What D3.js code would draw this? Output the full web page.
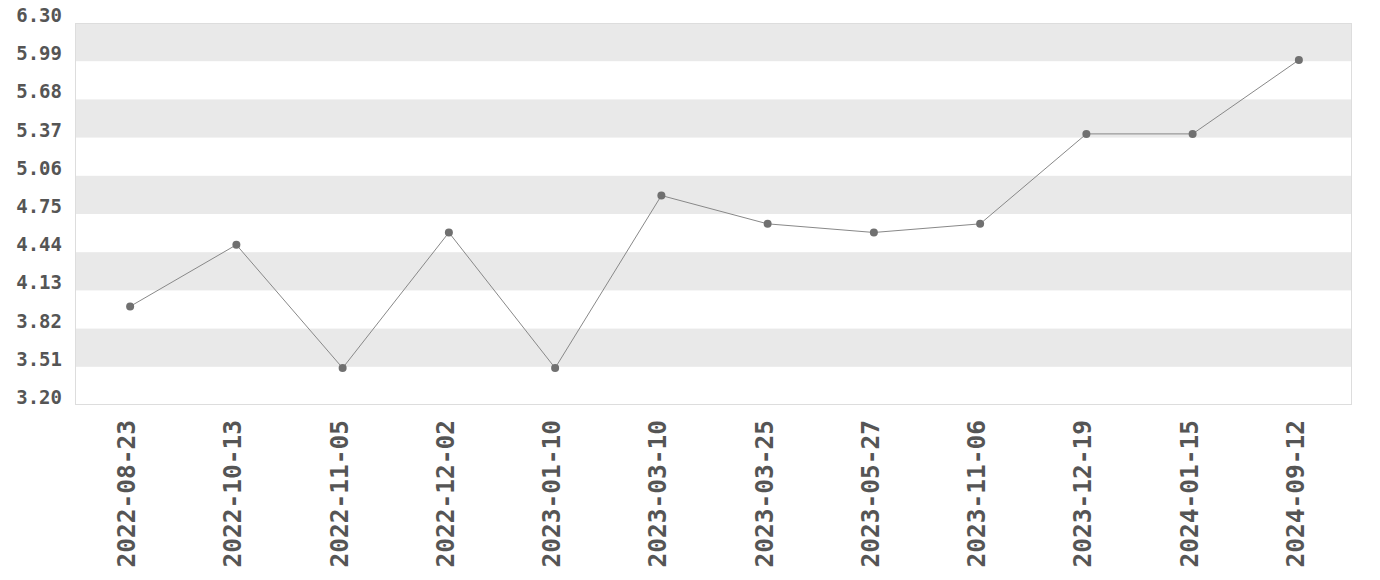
<!DOCTYPE html>
<html>
<head>
<meta charset="utf-8">
<script src="https://cdn.jsdelivr.net/npm/d3@7"></script>
<style>
  body { margin: 0; background: #fff; }
  text { font-family: "DejaVu Sans Mono", monospace; font-weight: bold; fill: #555; }
</style>
</head>
<body>
<svg id="chart" width="1380" height="580"></svg>
<script>
const dates = ["2022-08-23", "2022-10-13", "2022-11-05", "2022-12-02", "2023-01-10", "2023-03-10",
               "2023-03-25", "2023-05-27", "2023-11-06", "2023-12-19", "2024-01-15", "2024-09-12"];
const values = [4.0, 4.5, 3.5, 4.6, 3.5, 4.9, 4.67, 4.6, 4.67, 5.4, 5.4, 6.0];
const yTicks = [3.20, 3.51, 3.82, 4.13, 4.44, 4.75, 5.06, 5.37, 5.68, 5.99, 6.30];

const svg = d3.select("#chart");
let plotLeft = 75, plotRight = 1352, plotTop = 23, plotBottom = 405;

let x = d3.scalePoint().domain(dates).range([plotLeft + 2, plotRight]).padding(0.5);
let y = d3.scaleLinear().domain([3.2, 6.3]).range([plotBottom, plotTop]);

// alternating bands, grey on top
let bands = d3.range(yTicks.length - 1).map(i => [yTicks[i], yTicks[i + 1]]);
svg.append("g").selectAll("rect")
  .data(bands)
  .enter().append("rect")
  .attr("x", plotLeft)
  .attr("y", d => y(d[1]))
  .attr("width", plotRight - plotLeft)
  .attr("height", d => y(d[0]) - y(d[1]))
  .attr("fill", (d, i) => (bands.length - 1 - i) % 2 === 0 ? "#e9e9e9" : "none");

// frame
svg.append("rect")
  .attr("x", plotLeft + 0.5).attr("y", plotTop + 0.5)
  .attr("width", plotRight - plotLeft - 1).attr("height", plotBottom - plotTop - 1)
  .attr("fill", "none").attr("stroke", "#ddd").attr("stroke-width", 1);

// y labels
svg.append("g").selectAll("text")
  .data(yTicks)
  .enter().append("text")
  .attr("x", 62)
  .attr("y", d => y(d) - 1)
  .attr("text-anchor", "end")
  .style("font-size", "19px")
  .text(d => d.toFixed(2));

// x labels
svg.append("g").selectAll("text")
  .data(dates)
  .enter().append("text")
  .attr("transform", d => "translate(" + x(d) + "," + (plotBottom + 15) + ") rotate(-90)")
  .attr("dy", "5")
  .attr("text-anchor", "end")
  .style("font-size", "24.5px")
  .text(d => d);

// line + dots
let line = d3.line().x((d, i) => x(dates[i])).y(d => y(d));
svg.append("path")
  .datum(values)
  .attr("d", line)
  .attr("fill", "none")
  .attr("stroke", "#888")
  .attr("stroke-width", 1);

svg.append("g").selectAll("circle")
  .data(values)
  .enter().append("circle")
  .attr("cx", (d, i) => x(dates[i]))
  .attr("cy", d => y(d))
  .attr("r", 4)
  .attr("fill", "#707070");
</script>
</body>
</html>
